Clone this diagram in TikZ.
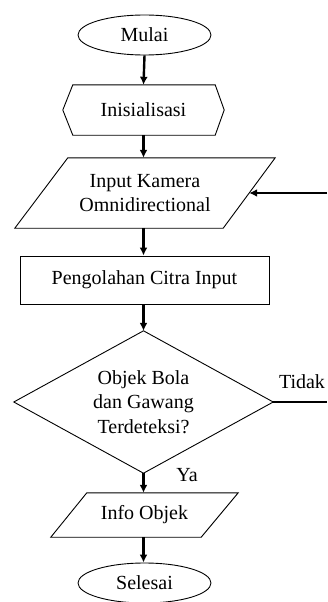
\documentclass[tikz,border=0pt]{standalone}
\usepackage{fontspec}
\setmainfont{Liberation Serif}
\usetikzlibrary{arrows.meta,shapes.geometric,calc}
\begin{document}
\begin{tikzpicture}[x=1pt,y=-1pt,
  every node/.style={font=\fontsize{20}{24.5}\selectfont, inner sep=0pt, align=center},
  outline/.style={draw=black, line width=0.9pt},
  term/.style={ellipse, outline, minimum width=133pt, minimum height=40pt},
  procbox/.style={rectangle, outline, minimum width=249pt, minimum height=48pt},
  flow/.style={line width=2.4pt, -{Latex[length=8pt,width=8pt]}},
  plainline/.style={line width=2.4pt}
]
\useasboundingbox (0,0) rectangle (327,602);

% nodes
\node[term] (start) at (144.5,35) {Mulai};
\node[minimum width=161pt, minimum height=50pt] (init) at (143.5,110) {Inisialisasi};
\node[minimum width=260pt, minimum height=70pt] (in) at (145,193) {Input Kamera\\Omnidirectional};
\node[procbox] (proc) at (144.5,280) {Pengolahan Citra Input};
\node[minimum width=259pt, minimum height=142pt] (dec) at (143.5,402) {Objek Bola\\dan Gawang\\Terdeteksi?};
\node[minimum width=187pt, minimum height=44pt] (info) at (144.5,515) {Info Objek};
\node[term] (stop) at (144.5,583) {Selesai};

\node (ya) at (187,475) {Ya};
\node (tidak) at (302,382) {Tidak};

% outlines
\draw[outline] (init.west) -- ($(init.north west)+(10,0)$) -- ($(init.north east)+(-9,0)$)
  -- (init.east) -- ($(init.south east)+(-9,0)$) -- ($(init.south west)+(10,0)$) -- cycle;
\draw[outline] ($(in.north west)+(53,0)$) -- (in.north east) -- ($(in.south east)+(-52,0)$)
  -- (in.south west) -- cycle;
\draw[outline] (dec.north) -- (dec.east) -- (dec.south) -- (dec.west) -- cycle;
\draw[outline] ($(info.north west)+(36,0)$) -- (info.north east) -- ($(info.south east)+(-37,0)$)
  -- (info.south west) -- cycle;

% connector points
\coordinate (inR) at ($(in.east)+(-26,0)$);
\coordinate (fbStart) at (327,193);
\coordinate (tEnd) at (327,402);

% connectors
\draw[flow] (start.south) -- (init.north);
\draw[flow] (init.south) -- (in.north -| init.south);
\draw[flow] (in.south -| init.south) -- (proc.north -| init.south);
\draw[flow] (proc.south -| init.south) -- (dec.north);
\draw[flow] (dec.south) -- (info.north -| dec.south);
\draw[flow] (info.south -| dec.south) -- (stop.north -| dec.south);
\draw[plainline] (dec.east) -- (tEnd);
\draw[flow] (fbStart) -- (inR);
\end{tikzpicture}
\end{document}
